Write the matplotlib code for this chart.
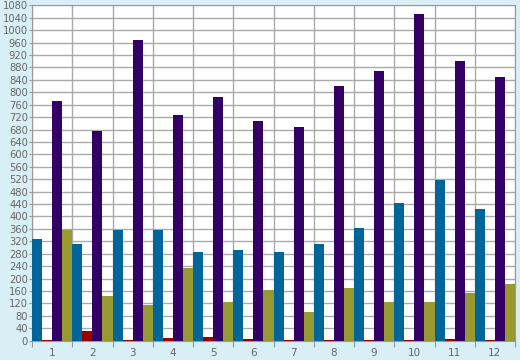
import numpy as np
import matplotlib
matplotlib.use('Agg')
import matplotlib.pyplot as plt

categories = ['1', '2', '3', '4', '5', '6', '7', '8', '9', '10', '11', '12']
blue = [326, 311, 356, 356, 286, 292, 286, 311, 363, 443, 517, 423]
red = [3, 31, 3, 9, 12, 5, 3, 3, 3, 3, 5, 3]
purple = [773, 675, 968, 726, 784, 707, 688, 820, 868, 1052, 900, 849]
olive = [356, 144, 115, 233, 124, 163, 92, 169, 124, 124, 153, 182]

series = [(blue, '#006699'), (red, '#990000'), (purple, '#330066'), (olive, '#999933')]

fig = plt.figure(figsize=(5.2, 3.6), dpi=100, facecolor='#d9eff6')
ax = fig.add_axes([32 / 520, 19.3 / 360, 483 / 520, 335.4 / 360])
ax.set_facecolor('white')

x = np.arange(len(categories))
w = 0.25
for i, (vals, col) in enumerate(series):
    ax.bar(x - 0.375 + i * w, vals, width=w, color=col, zorder=3, linewidth=0)

ax.set_xlim(-0.5, len(categories) - 0.5)
ax.set_ylim(0, 1080)

# group boundaries as major ticks (grid), labels on minor ticks at centers
ax.set_xticks(np.arange(len(categories) + 1) - 0.5)
ax.set_xticklabels([])
ax.set_xticks(x, minor=True)
ax.set_xticklabels(categories, minor=True)
ax.set_yticks(np.arange(0, 1081, 40))

ax.tick_params(axis='x', which='major', length=4, color='#999999', direction='out')
ax.tick_params(axis='x', which='minor', length=0, labelsize=7.5, labelcolor='#666666', pad=5)
ax.tick_params(axis='y', length=2, color='#999999', labelsize=7.2, labelcolor='#666666', pad=1)

ax.grid(True, which='major', color='#aaaaaa', linewidth=1, zorder=0)
ax.set_axisbelow(True)
for s in ax.spines.values():
    s.set_color('#999999')

plt.savefig('out.png', dpi=100, facecolor=fig.get_facecolor())
